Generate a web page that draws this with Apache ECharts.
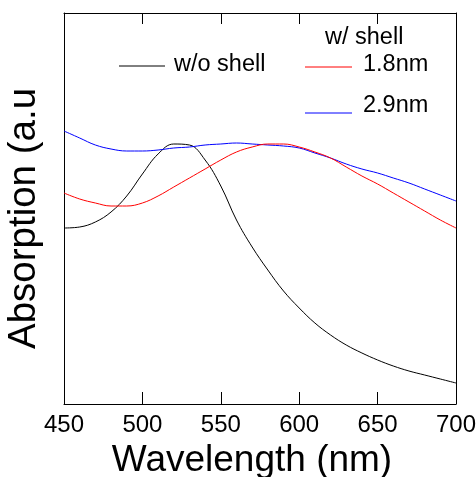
<!DOCTYPE html>
<html>
<head>
<meta charset="utf-8">
<script src="https://cdn.jsdelivr.net/npm/echarts@6/dist/echarts.min.js"></script>
<style>
  html, body { margin: 0; padding: 0; background: #fff; }
  #chart { width: 476px; height: 477px; }
</style>
</head>
<body>
<div id="chart"></div>
<script>
// wavelength grid (nm)
var wavelengths = [450, 460, 470, 480, 490, 500, 510, 520, 530, 540, 550, 560, 570,
                   580, 590, 600, 610, 620, 630, 640, 650, 660, 670, 680, 690, 700];
// absorption, arbitrary units
var noShell = [176, 177, 182, 192, 208, 230, 250, 260, 259, 244, 218, 184, 157,
               134, 113, 96, 81, 69, 59, 51, 44, 38, 33, 29, 25, 21];
var shell18 = [211, 205, 201, 198, 198, 201, 208, 217, 226, 235, 244, 252, 257,
               260, 260, 257, 252, 246, 237, 228, 220, 211, 202, 193, 184, 176];
var shell29 = [273, 266, 259, 255, 253, 253, 254, 256, 257, 259, 260, 261, 260,
               259, 258, 256, 251, 246, 240, 235, 231, 226, 221, 215, 209, 203];
var xTicks = [450, 500, 550, 600, 650, 700];

function pairs(ys) {
    return wavelengths.map(function (x, i) { return [x, ys[i]]; });
}

var font = '"Liberation Sans", Arial, sans-serif';
var chart = echarts.init(document.getElementById('chart'));

var option = {
    backgroundColor: '#fff',
    animation: false,
    grid: { left: 64, right: 20, top: 13, bottom: 73, containLabel: false, outerBoundsMode: 'none' },
    xAxis: [
        {
            type: 'value', position: 'bottom', gridIndex: 0,
            min: xTicks[0], max: xTicks[xTicks.length - 1], interval: 50,
            name: 'Wavelength (nm)', nameLocation: 'middle', nameGap: 38,
            nameTextStyle: { fontFamily: font, fontSize: 37, color: '#000', padding: [0, 16, 0, 0] },
            axisLine: { onZero: false, lineStyle: { color: '#000', width: 1 } },
            axisTick: { inside: true, length: 12, lineStyle: { color: '#000' } },
            axisLabel: { margin: 9, fontFamily: font, fontSize: 24, color: '#000' },
            splitLine: { show: false }
        },
        {
            type: 'value', position: 'top', gridIndex: 0,
            min: xTicks[0], max: xTicks[xTicks.length - 1], interval: 50,
            axisLine: { onZero: false, lineStyle: { color: '#000', width: 1 } },
            axisTick: { show: true, inside: true, length: 11, lineStyle: { color: '#000' } },
            axisLabel: { show: false },
            splitLine: { show: false }
        }
    ],
    yAxis: [
        {
            type: 'value', position: 'left', min: 0, max: 391,
            name: 'Absorption (a.u', nameLocation: 'middle', nameGap: 20,
            nameTextStyle: { fontFamily: font, fontSize: 38.5, color: '#000', padding: [0, 20, 0, 0] },
            axisLine: { show: true, onZero: false, lineStyle: { color: '#000', width: 1 } },
            axisTick: { show: false },
            axisLabel: { show: false },
            splitLine: { show: false }
        },
        {
            type: 'value', position: 'right', min: 0, max: 391,
            axisLine: { show: true, onZero: false, lineStyle: { color: '#000', width: 1 } },
            axisTick: { show: false },
            axisLabel: { show: false },
            splitLine: { show: false }
        }
    ],
    series: [
        {
            name: 'w/o shell', type: 'line', smooth: 0.4, showSymbol: false,
            data: pairs(noShell),
            lineStyle: { color: '#000', width: 1 }
        },
        {
            name: '2.9nm', type: 'line', smooth: 0.4, showSymbol: false,
            data: pairs(shell29),
            lineStyle: { color: '#0000ff', width: 1 }
        },
        {
            name: '1.8nm', type: 'line', smooth: 0.4, showSymbol: false,
            data: pairs(shell18),
            lineStyle: { color: '#ff0000', width: 1 }
        }
    ],
    // hand placed legend, like the original figure
    graphic: [
        { type: 'text', left: 325, top: 26, style: { text: 'w/ shell', font: '23.5px ' + font, fill: '#000' } },
        { type: 'line', shape: { x1: 119, y1: 66, x2: 165, y2: 66 }, style: { stroke: '#000', lineWidth: 1 } },
        { type: 'text', left: 174, top: 53, style: { text: 'w/o shell', font: '23.5px ' + font, fill: '#000' } },
        { type: 'line', shape: { x1: 305, y1: 67, x2: 352, y2: 67 }, style: { stroke: '#ff0000', lineWidth: 1 } },
        { type: 'text', left: 363, top: 53, style: { text: '1.8nm', font: '23.5px ' + font, fill: '#000' } },
        { type: 'line', shape: { x1: 305, y1: 113, x2: 352, y2: 113 }, style: { stroke: '#0000ff', lineWidth: 1 } },
        { type: 'text', left: 363, top: 94, style: { text: '2.9nm', font: '23.5px ' + font, fill: '#000' } }
    ]
};

chart.setOption(option);
</script>
</body>
</html>
